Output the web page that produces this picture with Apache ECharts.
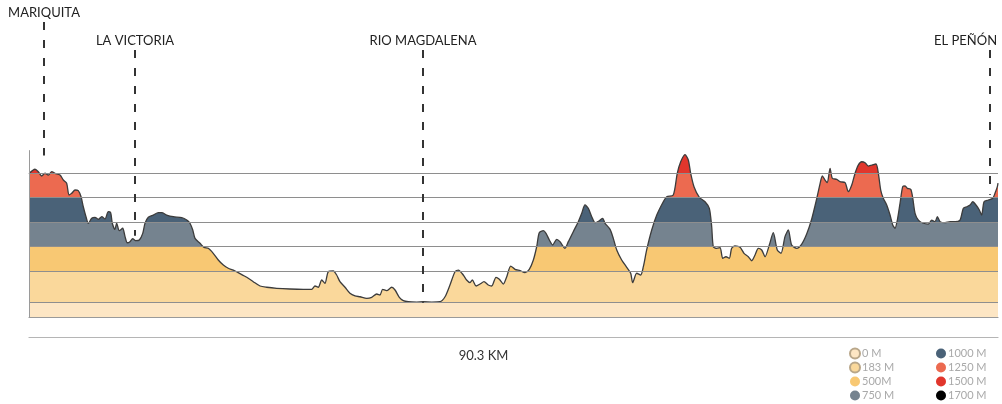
<!DOCTYPE html>
<html>
<head>
<meta charset="utf-8">
<script src="https://cdn.jsdelivr.net/npm/echarts@6/dist/echarts.min.js"></script>
<style>
html, body { margin: 0; padding: 0; background: #fff; }
#main { width: 1002px; height: 404px; }
</style>
</head>
<body>
<div id="main"></div>
<script>
// distance along the route (km) and elevation (m)
var distKm = [0, 0.56, 0.87, 1.18, 1.49, 1.80, 2.12, 2.42, 2.89, 3.20,
  3.51, 3.73, 3.98, 4.29, 4.59, 4.85, 5.06, 5.31, 5.53, 5.84,
  6.15, 6.46, 6.78, 7.08, 7.39, 7.61, 7.76, 8.01, 8.17, 8.42,
  8.73, 8.95, 9.16, 9.41, 9.66, 9.97, 10.28, 10.60, 10.81, 11.12,
  11.58, 12.05, 12.37, 12.83, 13.45, 14.23, 14.70, 15.00, 15.26, 15.47,
  15.94, 16.31, 16.71, 17.17, 17.64, 18.11, 18.57, 19.04, 19.50,
  20.29, 20.90, 21.53, 22.15, 23.08, 24.32, 25.56, 26.34, 26.65, 26.96,
  27.28, 27.58, 27.89, 28.36, 28.67, 28.98, 29.45, 29.91, 30.38, 30.85,
  31.47, 31.94, 32.40, 32.71, 32.96, 33.33, 33.80, 34.11, 34.51, 34.88,
  35.35, 36.13, 36.74, 37.53, 38.30, 38.77, 39.23, 39.70, 40.01, 40.47,
  40.78, 41.10, 41.31, 41.66, 42.03, 42.40, 42.80, 43.12, 43.52, 43.83,
  44.20, 44.52, 44.89, 45.29, 45.76, 46.22, 46.62, 47.00, 47.31, 47.55,
  47.93, 48.18, 48.49, 48.80, 49.18, 49.48, 49.95, 50.26, 50.72, 51.19,
  51.51, 51.81, 52.12, 52.44, 52.75, 53.15, 53.46, 53.68, 54.15, 54.45,
  54.77, 55.23, 55.70, 56.07, 56.26, 56.63, 57.00, 57.25, 57.56, 58.03,
  58.50, 59.11, 59.43, 60.04, 60.41, 60.73, 61.13, 61.44, 61.66, 61.97,
  62.47, 63.00, 63.40, 63.62, 63.77, 64.09, 64.40, 64.65, 64.95, 65.26,
  65.48, 65.79, 66.26, 66.63, 67.03, 67.35, 67.66, 67.96, 68.28, 68.59,
  68.99, 69.36, 69.73, 70.08, 70.45, 70.76, 71.07, 71.54, 72.01, 72.47,
  72.94, 73.41, 73.71, 73.93, 74.18, 74.39, 74.65, 74.86, 75.27, 75.58,
  76.05, 76.35, 76.67, 76.98, 77.28, 77.60, 77.91, 78.21, 78.53, 78.93,
  79.15, 79.37, 79.61, 79.93, 80.24, 80.49, 80.70, 80.92, 81.17, 81.42,
  81.64, 81.85, 82.17, 82.36, 82.57, 82.88, 83.34, 83.81, 84.12, 84.43,
  84.65, 84.90, 85.37, 85.83, 86.30, 86.76, 87.07, 87.39, 87.69, 87.95,
  88.25, 88.56, 88.78, 89.00, 89.40, 89.81, 90.02, 90.24, 90.30];

var elevM = [1495, 1540, 1515, 1471, 1499, 1481, 1515, 1499, 1481, 1430,
  1396, 1277, 1294, 1328, 1321, 1259, 1157, 1055, 988, 1039,
  1049, 1028, 1055, 1032, 1106, 1096, 988, 926, 988, 912,
  937, 851, 789, 800, 830, 810, 817, 885, 988, 1049,
  1072, 1096, 1096, 1072, 1055, 1045, 1021, 988, 919, 834,
  783, 742, 732, 681, 613, 561, 528, 510, 483,
  436, 391, 347, 334, 323, 316, 313, 313, 347, 334,
  408, 374, 493, 500, 459, 391, 334, 272, 245, 237,
  221, 231, 265, 255, 313, 299, 334, 306, 231, 197,
  186, 183, 186, 183, 186, 237, 357, 493, 510, 459,
  408, 381, 408, 347, 367, 391, 357, 347, 436, 415,
  367, 442, 551, 517, 503, 483, 517, 613, 748, 892,
  912, 885, 817, 766, 824, 800, 732, 800, 902, 1004,
  1090, 1175, 1141, 1055, 994, 1014, 1039, 988, 926, 834,
  715, 613, 538, 477, 381, 477, 459, 544, 715, 919,
  1072, 1208, 1259, 1277, 1499, 1617, 1690, 1635, 1499, 1362,
  1253, 1208, 1141, 953, 748, 732, 738, 630, 646, 630,
  732, 756, 742, 681, 646, 605, 664, 732, 715, 646,
  766, 892, 715, 681, 851, 919, 766, 732, 776, 878,
  1032, 1241, 1389, 1471, 1430, 1403, 1550, 1448, 1437, 1413,
  1403, 1311, 1379, 1499, 1583, 1617, 1607, 1573, 1583, 1594,
  1499, 1328, 1243, 1175, 1072, 970, 937, 1021, 1192, 1362,
  1369, 1345, 1335, 1243, 1090, 1021, 988, 980, 1021, 1004,
  1055, 1004, 994, 1004, 1004, 1021, 1141, 1157, 1175, 1208,
  1175, 1124, 1072, 1208, 1226, 1243, 1294, 1362, 1399];

var totalKm = 90.3;

// elevation bands
var bandLimits = [183, 500, 750, 1000, 1250, 1500, 1700];
var bandNames = ['0 M', '183 M', '500M', '750 M', '1000 M', '1250 M', '1500 M', '1700 M'];
var bandColors = ['#fde6c4', '#fad89b', '#f8c873', '#75838f', '#4a6278', '#ec6a50', '#e1362c', '#000000'];

// places along the route
var places = ['MARIQUITA', 'LA VICTORIA', 'RIO MAGDALENA', 'EL PEÑÓN'];
var placeKm = [1.40, 9.88, 36.72, 89.56];
var placeLineEnd = [1680, 860, 175, 1280];

var chart = echarts.init(document.getElementById('main'));

var yMin = 30, yMax = 3270;       // grid runs up to the top of the canvas
var axisTop = 1735;               // top of the left axis line
var labelRowTop = [3045, 2760];   // where the dashed lines start

var profile = distKm.map(function (d, i) { return [d, elevM[i]]; });

var pieces = [];
for (var i = 0; i < bandColors.length; i++) {
  var p = { color: bandColors[i] };
  if (i > 0) p.gte = bandLimits[i - 1];
  if (i < bandLimits.length) p.lt = bandLimits[i];
  pieces.push(p);
}

var fontFam = 'Lato, "DejaVu Sans", sans-serif';
var markLines = [];
bandLimits.slice(0, 6).forEach(function (v) {
  markLines.push({ yAxis: v, lineStyle: { color: '#8e8e8e', width: 1.2, type: 'solid' } });
});
markLines.push([
  { coord: [0, yMin], lineStyle: { color: '#9a9a9a', width: 1, type: 'solid' } },
  { coord: [0, axisTop] }
]);
places.forEach(function (name, i) {
  var last = i === places.length - 1;
  markLines.push([
    {
      coord: [placeKm[i], i === 0 ? labelRowTop[0] : labelRowTop[1]],
      lineStyle: { color: '#333', width: 2, type: [8, 10] },
      label: {
        show: true, formatter: name, position: 'start', distance: 3,
        color: '#222', fontSize: 13, fontFamily: fontFam,
        align: last ? 'right' : 'center', verticalAlign: 'bottom',
        padding: last ? [0, -7, 0, 0] : 0
      }
    },
    { coord: [placeKm[i], placeLineEnd[i]] }
  ]);
});

var series = [{
  type: 'line',
  data: profile,
  symbol: 'none',
  smooth: 0.25,
  clip: false,
  lineStyle: { color: '#3c3c3c', width: 1.3 },
  areaStyle: { opacity: 1 },
  z: 3,
  markLine: {
    silent: true,
    symbol: ['none', 'none'],
    animation: false,
    label: { show: false },
    data: markLines
  }
}];
bandNames.forEach(function (name, i) {
  series.push({
    type: 'scatter', name: name, data: [],
    itemStyle: {
      opacity: 1,
      color: bandColors[i],
      borderColor: i < 2 ? '#b9a78a' : bandColors[i],
      borderWidth: i < 2 ? 1 : 0
    }
  });
});

var legendBase = {
  orient: 'vertical', top: 347, itemWidth: 10, itemHeight: 10, itemGap: 1,
  icon: 'circle', selectedMode: false, padding: 0,
  textStyle: { color: '#a9a9a9', fontSize: 11, fontFamily: fontFam, lineHeight: 13, padding: [0, 0, 0, -3] }
};

chart.setOption({
  animation: false,
  backgroundColor: '#fff',
  grid: [
    { left: 29, right: 4, top: 0, bottom: 87 },
    { left: 29, right: 4, top: 336, height: 1 }
  ],
  xAxis: [
    {
      gridIndex: 0, type: 'value', min: 0, max: totalKm,
      axisLine: { show: true, onZero: false, lineStyle: { color: '#9a9a9a', width: 1.2 } },
      axisTick: { show: false }, axisLabel: { show: false }, splitLine: { show: false }
    },
    {
      gridIndex: 1, type: 'value', min: 0, max: totalKm,
      axisLine: { show: true, onZero: false, lineStyle: { color: '#b5b5b5', width: 1.2 } },
      axisTick: { show: false }, axisLabel: { show: false }, splitLine: { show: false },
      name: totalKm.toFixed(1) + ' KM', nameLocation: 'middle', nameGap: 12,
      nameTextStyle: { color: '#333', fontSize: 13, fontFamily: fontFam, padding: [0, 60, 0, 0] }
    }
  ],
  yAxis: [
    { gridIndex: 0, type: 'value', min: yMin, max: yMax, show: false },
    { gridIndex: 1, type: 'value', min: 0, max: 1, show: false }
  ],
  visualMap: {
    show: false, type: 'piecewise', seriesIndex: 0, dimension: 1, pieces: pieces
  },
  legend: [
    Object.assign({}, legendBase, { left: 849, data: bandNames.slice(0, 4) }),
    Object.assign({}, legendBase, { left: 936, data: bandNames.slice(4) })
  ],
  series: series
});
</script>
</body>
</html>
